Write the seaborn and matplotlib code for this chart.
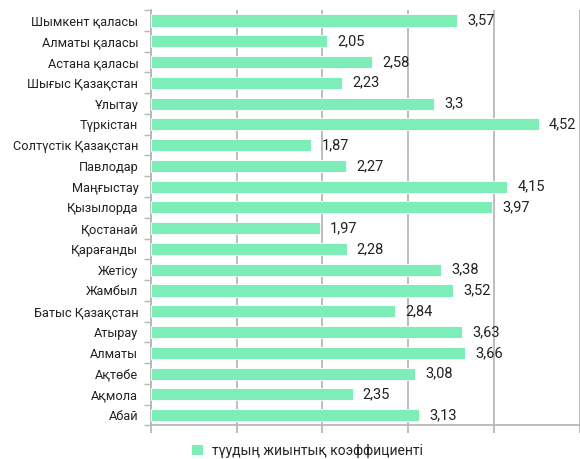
import matplotlib
matplotlib.use("Agg")
import matplotlib.pyplot as plt
from matplotlib.ticker import FixedLocator
from matplotlib.patches import Patch
import seaborn as sns
import pandas as pd
import numpy as np

# data (top to bottom as shown)
regions = ["Шымкент қаласы", "Алматы қаласы", "Астана қаласы", "Шығыс Қазақстан",
           "Ұлытау", "Түркістан", "Солтүстік Қазақстан", "Павлодар", "Маңғыстау",
           "Қызылорда", "Қостанай", "Қарағанды", "Жетісу", "Жамбыл",
           "Батыс Қазақстан", "Атырау", "Алматы", "Ақтөбе", "Ақмола", "Абай"]
values = [3.57, 2.05, 2.58, 2.23, 3.3, 4.52, 1.87, 2.27, 4.15, 3.97,
          1.97, 2.28, 3.38, 3.52, 2.84, 3.63, 3.66, 3.08, 2.35, 3.13]
value_labels = ["3,57", "2,05", "2,58", "2,23", "3,3", "4,52", "1,87", "2,27", "4,15", "3,97",
                "1,97", "2,28", "3,38", "3,52", "2,84", "3,63", "3,66", "3,08", "2,35", "3,13"]
series_name = "түудың жиынтық коэффициенті"

df = pd.DataFrame({"region": regions, "value": values})

sns.set_style("white")
plt.rcParams["font.family"] = ["Roboto", "DejaVu Sans"]

green = "#7DEEB8"
grey = "#B7B7B7"

fig = plt.figure(figsize=(5.8, 4.59), dpi=100)
ax = fig.add_axes([0.26, 0.073, 0.74, 0.905])

sns.barplot(data=df, y="region", x="value", orient="h", color=green,
            saturation=1, width=0.58, edgecolor="white", linewidth=0.6, ax=ax, zorder=3)

ax.set_xlim(0, 5)
ax.set_ylim(len(regions) - 0.5, -0.5)
ax.set_xlabel("")
ax.set_ylabel("")

# vertical gridlines, no x labels
ax.set_xticks(np.arange(0, 6))
ax.set_xticklabels([])
ax.xaxis.grid(True, color=grey, linewidth=1.3, zorder=0)
ax.tick_params(axis="x", length=6, width=1.3, color=grey, bottom=True)

# y ticks at category boundaries
ax.yaxis.set_minor_locator(FixedLocator(np.arange(-0.5, len(regions), 1)))
ax.tick_params(axis="y", which="major", length=0, labelsize=9.2, pad=9, labelcolor="#222222")
ax.tick_params(axis="y", which="minor", length=5, width=1, color=grey, left=True)

for s in ["top", "right"]:
    ax.spines[s].set_visible(False)
for s in ["left", "bottom"]:
    ax.spines[s].set_color(grey)
    ax.spines[s].set_linewidth(1.3)

for i, (v, lab) in enumerate(zip(values, value_labels)):
    ax.text(v + 0.12, i, lab, va="center", ha="left", fontsize=10.5, color="#222222")

fig.legend(handles=[Patch(facecolor=green, edgecolor="none")], labels=[series_name],
           loc="center", bbox_to_anchor=(0.53, 0.018), frameon=False, fontsize=10,
           handlelength=0.8, handleheight=0.8, handletextpad=0.6)

fig.savefig("out.png", dpi=100)
